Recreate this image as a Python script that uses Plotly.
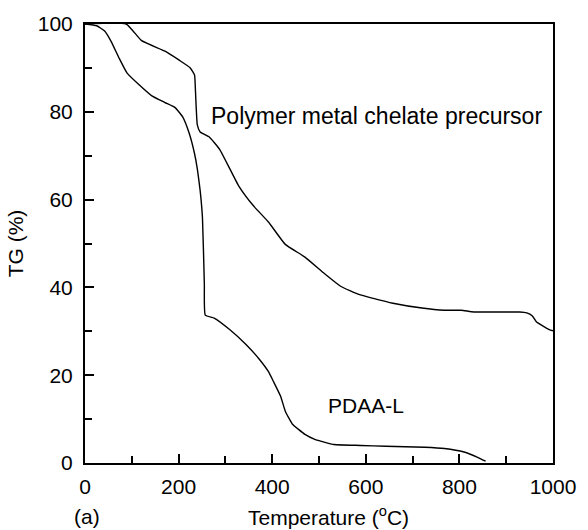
import plotly.graph_objects as go

# Thermogravimetric curves (temperature in degC, residual mass in %)
precursor_temp = [0, 88, 121, 171, 202, 225, 234, 236, 240, 246, 265, 288, 328, 359,
                  392, 428, 470, 512, 547, 585, 616, 658, 720, 768, 804, 831, 929,
                  944, 956, 965, 977, 992, 1000]
precursor_tg = [100, 100, 96.2, 93.8, 91.7, 90.0, 88.4, 84.8, 77.0, 75.4, 74.3, 71.4,
                63.2, 58.7, 54.9, 49.8, 46.9, 43.1, 40.2, 38.4, 37.5, 36.4, 35.3, 34.8,
                34.8, 34.4, 34.4, 34.2, 33.5, 32.1, 31.3, 30.4, 30.1]

pdaa_temp = [0, 25, 42, 56, 73, 90, 115, 142, 171, 192, 209, 223, 234, 240, 246, 251,
             255, 257, 276, 309, 344, 372, 392, 403, 418, 428, 443, 470, 491, 532,
             589, 643, 726, 768, 810, 839, 856]
pdaa_tg = [100, 99.6, 98.4, 96.0, 92.2, 88.8, 86.2, 83.7, 82.1, 81.0, 78.8, 75.0,
           70.5, 67.0, 62.1, 55.8, 40.8, 33.7, 33.0, 30.4, 27.0, 23.7, 20.8, 18.5,
           15.2, 11.8, 8.9, 6.5, 5.4, 4.2, 4.0, 3.8, 3.6, 3.3, 2.5, 1.3, 0.4]

x_ticks = [0, 200, 400, 600, 800, 1000]
y_ticks = [0, 20, 40, 60, 80, 100]

FONT = "Liberation Sans, Arial, Helvetica, sans-serif"


def font(size=21):
    return dict(family=FONT, size=size, color="black")


fig = go.Figure()
for xs, ys in [(precursor_temp, precursor_tg), (pdaa_temp, pdaa_tg)]:
    fig.add_trace(go.Scatter(x=xs, y=ys, mode="lines",
                             line=dict(color="black", width=1.4, shape="spline",
                                       smoothing=0.4),
                             showlegend=False, hoverinfo="skip"))

axis_common = dict(showgrid=False, zeroline=False, showline=True, linecolor="black",
                   linewidth=2, mirror=True, ticks="inside", tickcolor="black",
                   tickwidth=1.5, ticklen=9, tickfont=font())

fig.update_xaxes(range=[0, 1000], tickvals=x_ticks, ticklabelstandoff=4,
                 minor=dict(ticks="inside", dtick=100, tick0=0, ticklen=7,
                            tickwidth=1.5, tickcolor="black"),
                 **axis_common)
fig.update_yaxes(range=[0, 100], tickvals=y_ticks, ticklabelstandoff=6,
                 minor=dict(ticks="inside", dtick=10, tick0=0, ticklen=7,
                            tickwidth=1.5, tickcolor="black"),
                 title=dict(text="TG (%)", standoff=8, font=font()),
                 **axis_common)

# curve labels
fig.add_annotation(x=265, y=79.0, text="Polymer metal chelate precursor",
                   showarrow=False, xanchor="left", yanchor="middle", font=font(23))
fig.add_annotation(x=516, y=13.2, text="PDAA-L", showarrow=False,
                   xanchor="left", yanchor="middle", font=font())

# x-axis title and panel tag below the axis
fig.add_annotation(x=520, y=0, text="Temperature (<sup>o</sup>C)", showarrow=False,
                   xanchor="center", yanchor="middle", yshift=-53, font=font())
fig.add_annotation(x=4, y=0, text="(a)", showarrow=False,
                   xanchor="center", yanchor="middle", yshift=-53, font=font())

fig.update_layout(width=588, height=530, plot_bgcolor="white", paper_bgcolor="white",
                  margin=dict(l=85, r=24, t=15, b=67))

fig.write_html("out.html")
